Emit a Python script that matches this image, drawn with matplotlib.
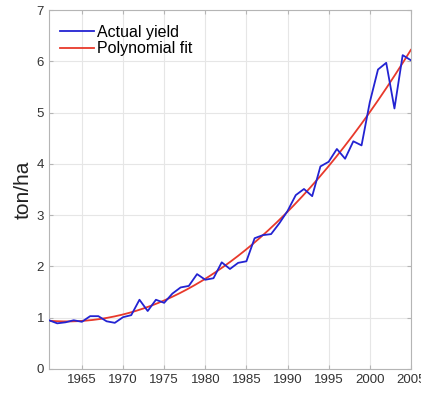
import numpy as np
import matplotlib
matplotlib.use("Agg")
import matplotlib.pyplot as plt

plt.rcParams['font.family'] = ['Liberation Sans', 'DejaVu Sans']

years = list(range(1961, 2006))
yield_t_ha = [
    0.95, 0.89, 0.91, 0.95, 0.92, 1.03, 1.03, 0.93, 0.90, 1.01,
    1.05, 1.35, 1.13, 1.35, 1.29, 1.47, 1.59, 1.62, 1.85, 1.74,
    1.77, 2.08, 1.95, 2.07, 2.10, 2.55, 2.61, 2.63, 2.84, 3.08,
    3.39, 3.51, 3.37, 3.95, 4.04, 4.29, 4.10, 4.44, 4.36, 5.20,
    5.84, 5.97, 5.08, 6.12, 6.02,
]
fit_degree = 3
x_ticks = [1965, 1970, 1975, 1980, 1985, 1990, 1995, 2000, 2005]
y_ticks = [0, 1, 2, 3, 4, 5, 6, 7]

x = np.array(years, dtype=float)
y = np.array(yield_t_ha)
xc = x - x.mean()
coef = np.polyfit(xc, y, fit_degree)
x_fit = np.linspace(x[0], x[-1], 300)
y_fit = np.polyval(coef, x_fit - x.mean())

fig = plt.figure(figsize=(4.21, 3.94), dpi=100)
ax = fig.add_axes([0.1164, 0.0635, 0.8596, 0.9111])

ax.plot(x, y, color='#2323d2', lw=1.3, label='Actual yield', zorder=3)
ax.plot(x_fit, y_fit, color='#e8392b', lw=1.3, label='Polynomial fit', zorder=2)

ax.set_xlim(1961, 2005)
ax.set_ylim(0, 7)
ax.set_xticks(x_ticks)
ax.set_yticks(y_ticks)
ax.grid(True, color='#e6e6e6', lw=0.8)
ax.set_axisbelow(True)
for s in ax.spines.values():
    s.set_color('#b5b5b5')
    s.set_linewidth(0.8)
ax.tick_params(direction='in', top=True, right=True, length=3,
               color='#b5b5b5', labelcolor='#333333', labelsize=9.5)
ax.set_ylabel('ton/ha', fontsize=15, color='#222222', labelpad=3)

leg = ax.legend(loc='upper left', frameon=False, fontsize=11.5,
                handlelength=2.1, handletextpad=0.2, labelspacing=0.1,
                borderaxespad=0.3, bbox_to_anchor=(0.0, 0.99))

fig.savefig('out.png', dpi=100)
